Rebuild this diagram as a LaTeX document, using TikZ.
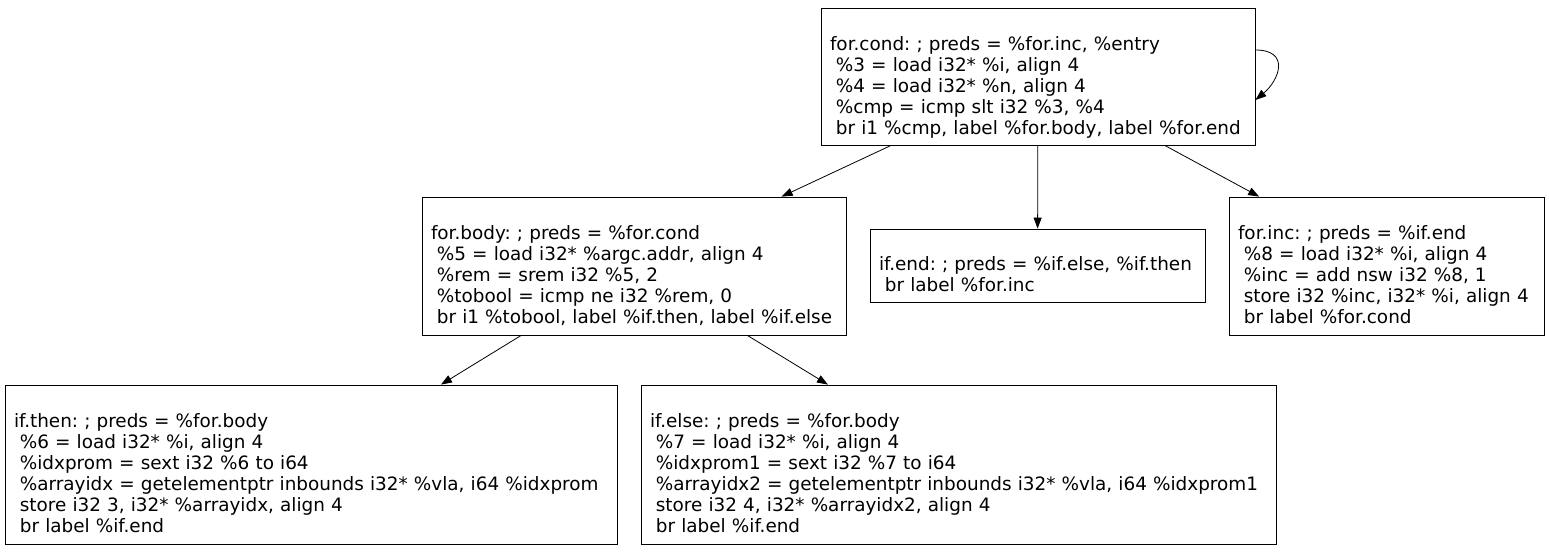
\documentclass[tikz,border=0pt]{standalone}
\usepackage{fontspec}
\setmainfont{DejaVu Sans}
\usetikzlibrary{arrows.meta}
\newcommand\ind{\hspace*{0.32em}}
\frenchspacing

\begin{document}
\begin{tikzpicture}[x=1pt,y=-1pt,
  block/.style={draw, line width=0.8pt, rectangle, align=left, inner xsep=9pt, inner ysep=0pt, font=\fontsize{18.4}{21}\selectfont},
  edge/.style={line width=0.8pt, -{Triangle[length=11pt,width=8pt]}}]
\fill[white] (0,0) rectangle (1549,552);
\useasboundingbox (0,0) rectangle (1549,552);
\node[block, text width=416pt, minimum height=137pt] (cond) at (1038,76.5) {\rule{0pt}{17pt}\\for.cond: ; preds = \%for.inc, \%entry\\\ind\%3 = load i32* \%i, align 4\\\ind\%4 = load i32* \%n, align 4\\\ind\%cmp = icmp slt i32 \%3, \%4\\\ind br i1 \%cmp, label \%for.body, label \%for.end\strut};
\node[block, text width=406pt, minimum height=138pt] (body) at (634,266) {\rule{0pt}{17pt}\\for.body: ; preds = \%for.cond\\\ind\%5 = load i32* \%argc.addr, align 4\\\ind\%rem = srem i32 \%5, 2\\\ind\%tobool = icmp ne i32 \%rem, 0\\\ind br i1 \%tobool, label \%if.then, label \%if.else\strut};
\node[block, text width=317pt, minimum height=73pt] (ifend) at (1037.5,265.5) {\rule{0pt}{17pt}\\if.end: ; preds = \%if.else, \%if.then\\\ind br label \%for.inc\strut};
\node[block, text width=297pt, minimum height=138pt] (inc) at (1386.5,266) {\rule{0pt}{17pt}\\for.inc: ; preds = \%if.end\\\ind\%8 = load i32* \%i, align 4\\\ind\%inc = add nsw i32 \%8, 1\\\ind store i32 \%inc, i32* \%i, align 4\\\ind br label \%for.cond\strut};
\node[block, text width=594pt, minimum height=159pt] (ifthen) at (311,464.5) {\rule{0pt}{17pt}\\if.then: ; preds = \%for.body\\\ind\%6 = load i32* \%i, align 4\\\ind\%idxprom = sext i32 \%6 to i64\\\ind\%arrayidx = getelementptr inbounds i32* \%vla, i64 \%idxprom\\\ind store i32 3, i32* \%arrayidx, align 4\\\ind br label \%if.end\strut};
\node[block, text width=617pt, minimum height=159pt] (ifelse) at (958.5,464.5) {\rule{0pt}{17pt}\\if.else: ; preds = \%for.body\\\ind\%7 = load i32* \%i, align 4\\\ind\%idxprom1 = sext i32 \%7 to i64\\\ind\%arrayidx2 = getelementptr inbounds i32* \%vla, i64 \%idxprom1\\\ind store i32 4, i32* \%arrayidx2, align 4\\\ind br label \%if.end\strut};
\draw[edge] (cond) -- (body);
\draw[edge] (cond) -- (ifend);
\draw[edge] (cond) -- (inc);
\draw[edge] (body) -- (ifthen);
\draw[edge] (body) -- (ifelse);
\draw[edge] ([yshift=26.5pt]cond.east) .. controls +(35,0) and +(24,-20) .. ([yshift=-23.5pt]cond.east);
\end{tikzpicture}
\end{document}
